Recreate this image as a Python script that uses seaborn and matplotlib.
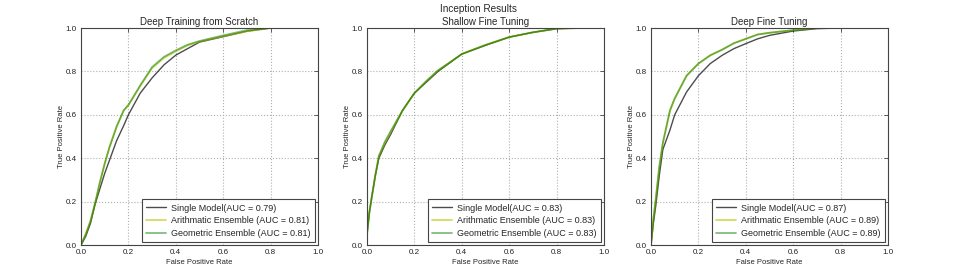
import numpy as np
import pandas as pd
import matplotlib
matplotlib.use("Agg")
import matplotlib.pyplot as plt
import seaborn as sns

titles = ["Deep Training from Scratch", "Shallow Fine Tuning", "Deep Fine Tuning"]
series_names = ["Single Model", "Arithmatic Ensemble", "Geometric Ensemble"]
auc = [[0.79, 0.81, 0.81], [0.83, 0.83, 0.83], [0.87, 0.89, 0.89]]

# Deep Training from Scratch
s1_fpr = [0, 0.02, 0.04, 0.06, 0.08, 0.10, 0.12, 0.15, 0.18, 0.20, 0.25, 0.30, 0.35, 0.40, 0.45, 0.50, 0.60, 0.70, 0.80, 1.0]
s1_single = [0, 0.04, 0.10, 0.19, 0.26, 0.33, 0.39, 0.48, 0.55, 0.60, 0.70, 0.77, 0.83, 0.875, 0.905, 0.935, 0.96, 0.985, 1.0, 1.0]
s1_arith = [0, 0.05, 0.11, 0.195, 0.29, 0.375, 0.45, 0.545, 0.62, 0.645, 0.732, 0.815, 0.862, 0.892, 0.92, 0.937, 0.962, 0.985, 1.0, 1.0]
s1_geom = [0, 0.05, 0.11, 0.195, 0.29, 0.375, 0.45, 0.545, 0.62, 0.645, 0.736, 0.82, 0.867, 0.897, 0.923, 0.94, 0.966, 0.99, 1.0, 1.0]

# Shallow Fine Tuning
s2_fpr = [0, 0.01, 0.02, 0.035, 0.05, 0.075, 0.10, 0.15, 0.20, 0.25, 0.30, 0.35, 0.40, 0.50, 0.60, 0.70, 0.80, 0.90, 1.0]
s2_single = [0.05, 0.15, 0.22, 0.32, 0.40, 0.46, 0.51, 0.62, 0.70, 0.75, 0.80, 0.84, 0.88, 0.92, 0.958, 0.98, 0.997, 1.0, 1.0]
s2_arith = [0.05, 0.15, 0.22, 0.32, 0.41, 0.47, 0.52, 0.62, 0.70, 0.755, 0.805, 0.842, 0.88, 0.922, 0.958, 0.98, 0.997, 1.0, 1.0]
s2_geom = [0.05, 0.15, 0.22, 0.32, 0.41, 0.475, 0.525, 0.62, 0.70, 0.755, 0.805, 0.842, 0.88, 0.922, 0.958, 0.98, 0.997, 1.0, 1.0]

# Deep Fine Tuning
s3_fpr = [0, 0.01, 0.02, 0.035, 0.05, 0.08, 0.10, 0.15, 0.20, 0.25, 0.30, 0.35, 0.40, 0.45, 0.50, 0.60, 0.70, 0.80, 1.0]
s3_single = [0, 0.10, 0.18, 0.32, 0.44, 0.53, 0.60, 0.705, 0.78, 0.836, 0.874, 0.905, 0.928, 0.95, 0.966, 0.986, 0.997, 1.0, 1.0]
s3_arith = [0, 0.12, 0.21, 0.36, 0.47, 0.62, 0.675, 0.78, 0.836, 0.874, 0.90, 0.93, 0.95, 0.97, 0.978, 0.99, 1.0, 1.0, 1.0]
s3_geom = [0, 0.12, 0.21, 0.36, 0.47, 0.62, 0.675, 0.78, 0.836, 0.874, 0.90, 0.93, 0.95, 0.97, 0.978, 0.99, 1.0, 1.0, 1.0]

panels = [
    (s1_fpr, [s1_single, s1_arith, s1_geom]),
    (s2_fpr, [s2_single, s2_arith, s2_geom]),
    (s3_fpr, [s3_single, s3_arith, s3_geom]),
]

colors = [(0.0, 0.0, 0.0, 0.7), (0.75, 0.75, 0.0, 0.6), (0.0, 0.5, 0.0, 0.5)]

sns.set_theme(style="whitegrid")
plt.rcParams["font.family"] = ["Liberation Sans", "DejaVu Sans"]

fig = plt.figure(figsize=(9.57, 2.73), dpi=100)
lefts = [81 / 957, 367 / 957, 651 / 957]
bottom = 28 / 273
w = 237 / 957
h = 217 / 273

for i, (fpr, ys) in enumerate(panels):
    ax = fig.add_axes([lefts[i], bottom, w, h])
    ax.set_facecolor("white")
    for j, y in enumerate(ys):
        if j == 0:
            label = f"{series_names[j]}(AUC = {auc[i][j]:.2f})"
        else:
            label = f"{series_names[j]} (AUC = {auc[i][j]:.2f})"
        df = pd.DataFrame({"fpr": fpr, "tpr": y})
        sns.lineplot(data=df, x="fpr", y="tpr", ax=ax, color=colors[j][:3],
                     alpha=colors[j][3], linewidth=1.0 if j == 0 else 1.3,
                     label=label, estimator=None, sort=False)
    ax.set_xlim(0, 1)
    ax.set_ylim(0, 1)
    ax.set_xticks([0, 0.2, 0.4, 0.6, 0.8, 1.0])
    ax.set_yticks([0, 0.2, 0.4, 0.6, 0.8, 1.0])
    ax.set_xticklabels(["0.0", "0.2", "0.4", "0.6", "0.8", "1.0"])
    ax.set_yticklabels(["0.0", "0.2", "0.4", "0.6", "0.8", "1.0"])
    ax.grid(True, linestyle=":", color="#b0b0b0", linewidth=0.8)
    for sp in ax.spines.values():
        sp.set_color("#444444")
        sp.set_linewidth(0.8)
    ax.tick_params(direction="in", top=True, right=True, labelsize=5.8,
                   length=3, width=0.6, color="#444444", pad=3, colors="#222222")
    ax.set_xlabel("False Positive Rate", fontsize=5.5, labelpad=2)
    ax.set_ylabel("True Positive Rate", fontsize=5.5, labelpad=0.5)
    ax.set_title(titles[i], fontsize=7, pad=2)
    leg = ax.legend(loc="lower right", fontsize=6.5, fancybox=False, framealpha=1,
                    edgecolor="#444444", borderaxespad=0.35, handlelength=2.2,
                    handletextpad=0.6, borderpad=0.45, labelspacing=0.4)
    leg.get_frame().set_linewidth(0.8)

fig.suptitle("Inception Results", fontsize=7.2, y=0.985)
fig.savefig("out.png", dpi=100)
